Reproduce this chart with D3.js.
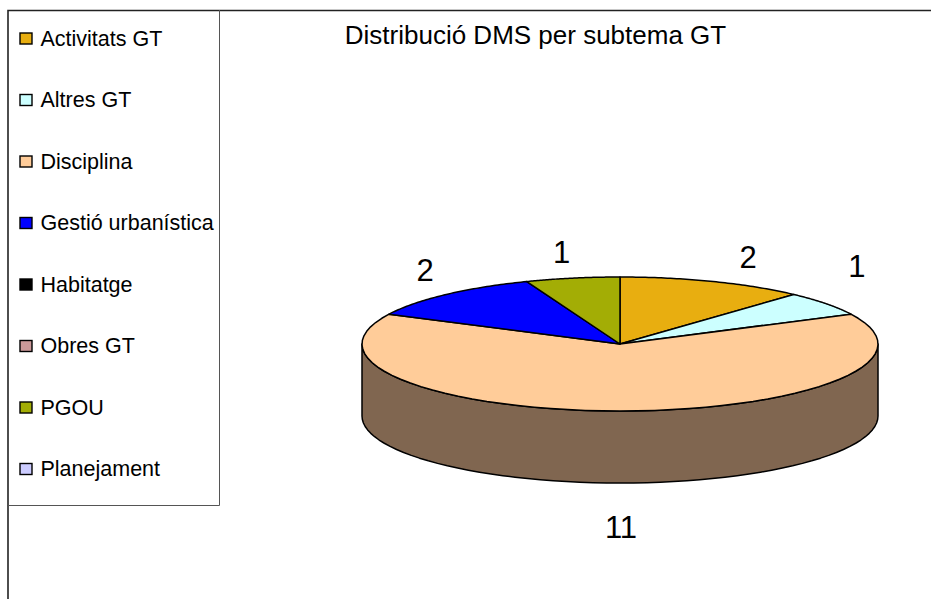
<!DOCTYPE html>
<html><head><meta charset="utf-8">
<script src="https://cdn.jsdelivr.net/npm/d3@7/dist/d3.min.js"></script>
<style>html,body{margin:0;padding:0;background:#fff}svg{display:block}text{font-family:"Liberation Sans",Arial,sans-serif;fill:#000}</style>
</head><body><div id="chart"></div>
<script>
const categories=["Activitats GT","Altres GT","Disciplina","Gestió urbanística","Habitatge","Obres GT","PGOU","Planejament"];
const values=[2,1,11,2,0,0,1,0];
const colors=["#E8AE10","#CCFFFF","#FFCC99","#0000FF","#000000","#CC9999","#A3AD05","#CCCCFF"];
const wallColor="#806650";
const title="Distribució DMS per subtema GT";
const labelOffsets=[[35,-23.5],[31,-36.6],[1,45],[-21,-23.5],[0,0],[0,0],[-11,-25],[0,0]];

const W=931,H=599,cx=620,cy=344,rx=258,ry=67,depth=72;
const svg=d3.select("#chart").append("svg").attr("width",W).attr("height",H);
// frame
const frame=svg.append("g").attr("fill","none");
frame.append("path").attr("d",`M8,${H}V10.5H${W}`).attr("stroke","#222").attr("stroke-width",1.6);
frame.append("path").attr("d","M8,505.5H219.5V10").attr("stroke","#555").attr("stroke-width",1);
svg.append("text").attr("x",535.5).attr("y",44).attr("text-anchor","middle").attr("font-size",26).text(title);
// legend
const legendY=d3.scalePoint().domain(categories).range([38.5,469]);
const lg=svg.append("g").selectAll("g").data(categories).join("g").attr("transform",d=>`translate(0,${legendY(d)})`);
lg.append("rect").attr("x",20).attr("y",-5.5).attr("width",12).attr("height",11).attr("fill",(d,i)=>colors[i]).attr("stroke","#000").attr("stroke-width",1.4);
lg.append("text").attr("x",40.5).attr("y",7).attr("font-size",21.5).text(d=>d);
// pie
const pie=d3.pie().sort(null).value(d=>d);
const arcs=pie(values);
const px=d3.scaleLinear().domain([-1,1]).range([cx-rx,cx+rx]);
const py=d3.scaleLinear().domain([-1,1]).range([cy-ry,cy+ry]);
const pt=a=>[px(Math.sin(a)),py(-Math.cos(a))];
const line=d3.line();
const samples=(a0,a1)=>d3.range(0,61).map(i=>a0+(a1-a0)*i/60);
// wall
const wallSlices=arcs.map((d,i)=>({d,i})).filter(o=>o.d.value>0&&o.d.endAngle>Math.PI/2&&o.d.startAngle<1.5*Math.PI);
svg.append("g").selectAll("path").data(wallSlices).join("path")
 .attr("d",o=>{
   const a0=Math.max(o.d.startAngle,Math.PI/2),a1=Math.min(o.d.endAngle,1.5*Math.PI);
   const top=samples(a0,a1).map(pt);
   const bot=top.map(p=>[p[0],p[1]+depth]).reverse();
   return line(top.concat(bot))+"Z";
 }).attr("fill",wallColor).attr("stroke","#000").attr("stroke-width",1.5).attr("stroke-linejoin","round");
// top
svg.append("g").selectAll("path").data(arcs.filter(d=>d.value>0)).join("path")
 .attr("d",d=>line([[cx,cy]].concat(samples(d.startAngle,d.endAngle).map(pt)))+"Z")
 .attr("fill",d=>colors[d.index]).attr("stroke","#000").attr("stroke-width",1.5).attr("stroke-linejoin","round");
// labels
svg.append("g").selectAll("text").data(arcs.filter(d=>d.value>0)).join("text")
 .attr("text-anchor","middle").attr("font-size",31)
 .attr("x",d=>pt((d.startAngle+d.endAngle)/2)[0]+labelOffsets[d.index][0])
 .attr("y",d=>{const m=(d.startAngle+d.endAngle)/2;const p=pt(m)[1]+(m>Math.PI/2&&m<1.5*Math.PI?depth:0);return p+labelOffsets[d.index][1]+10;})
 .text(d=>d.value);
</script></body></html>
